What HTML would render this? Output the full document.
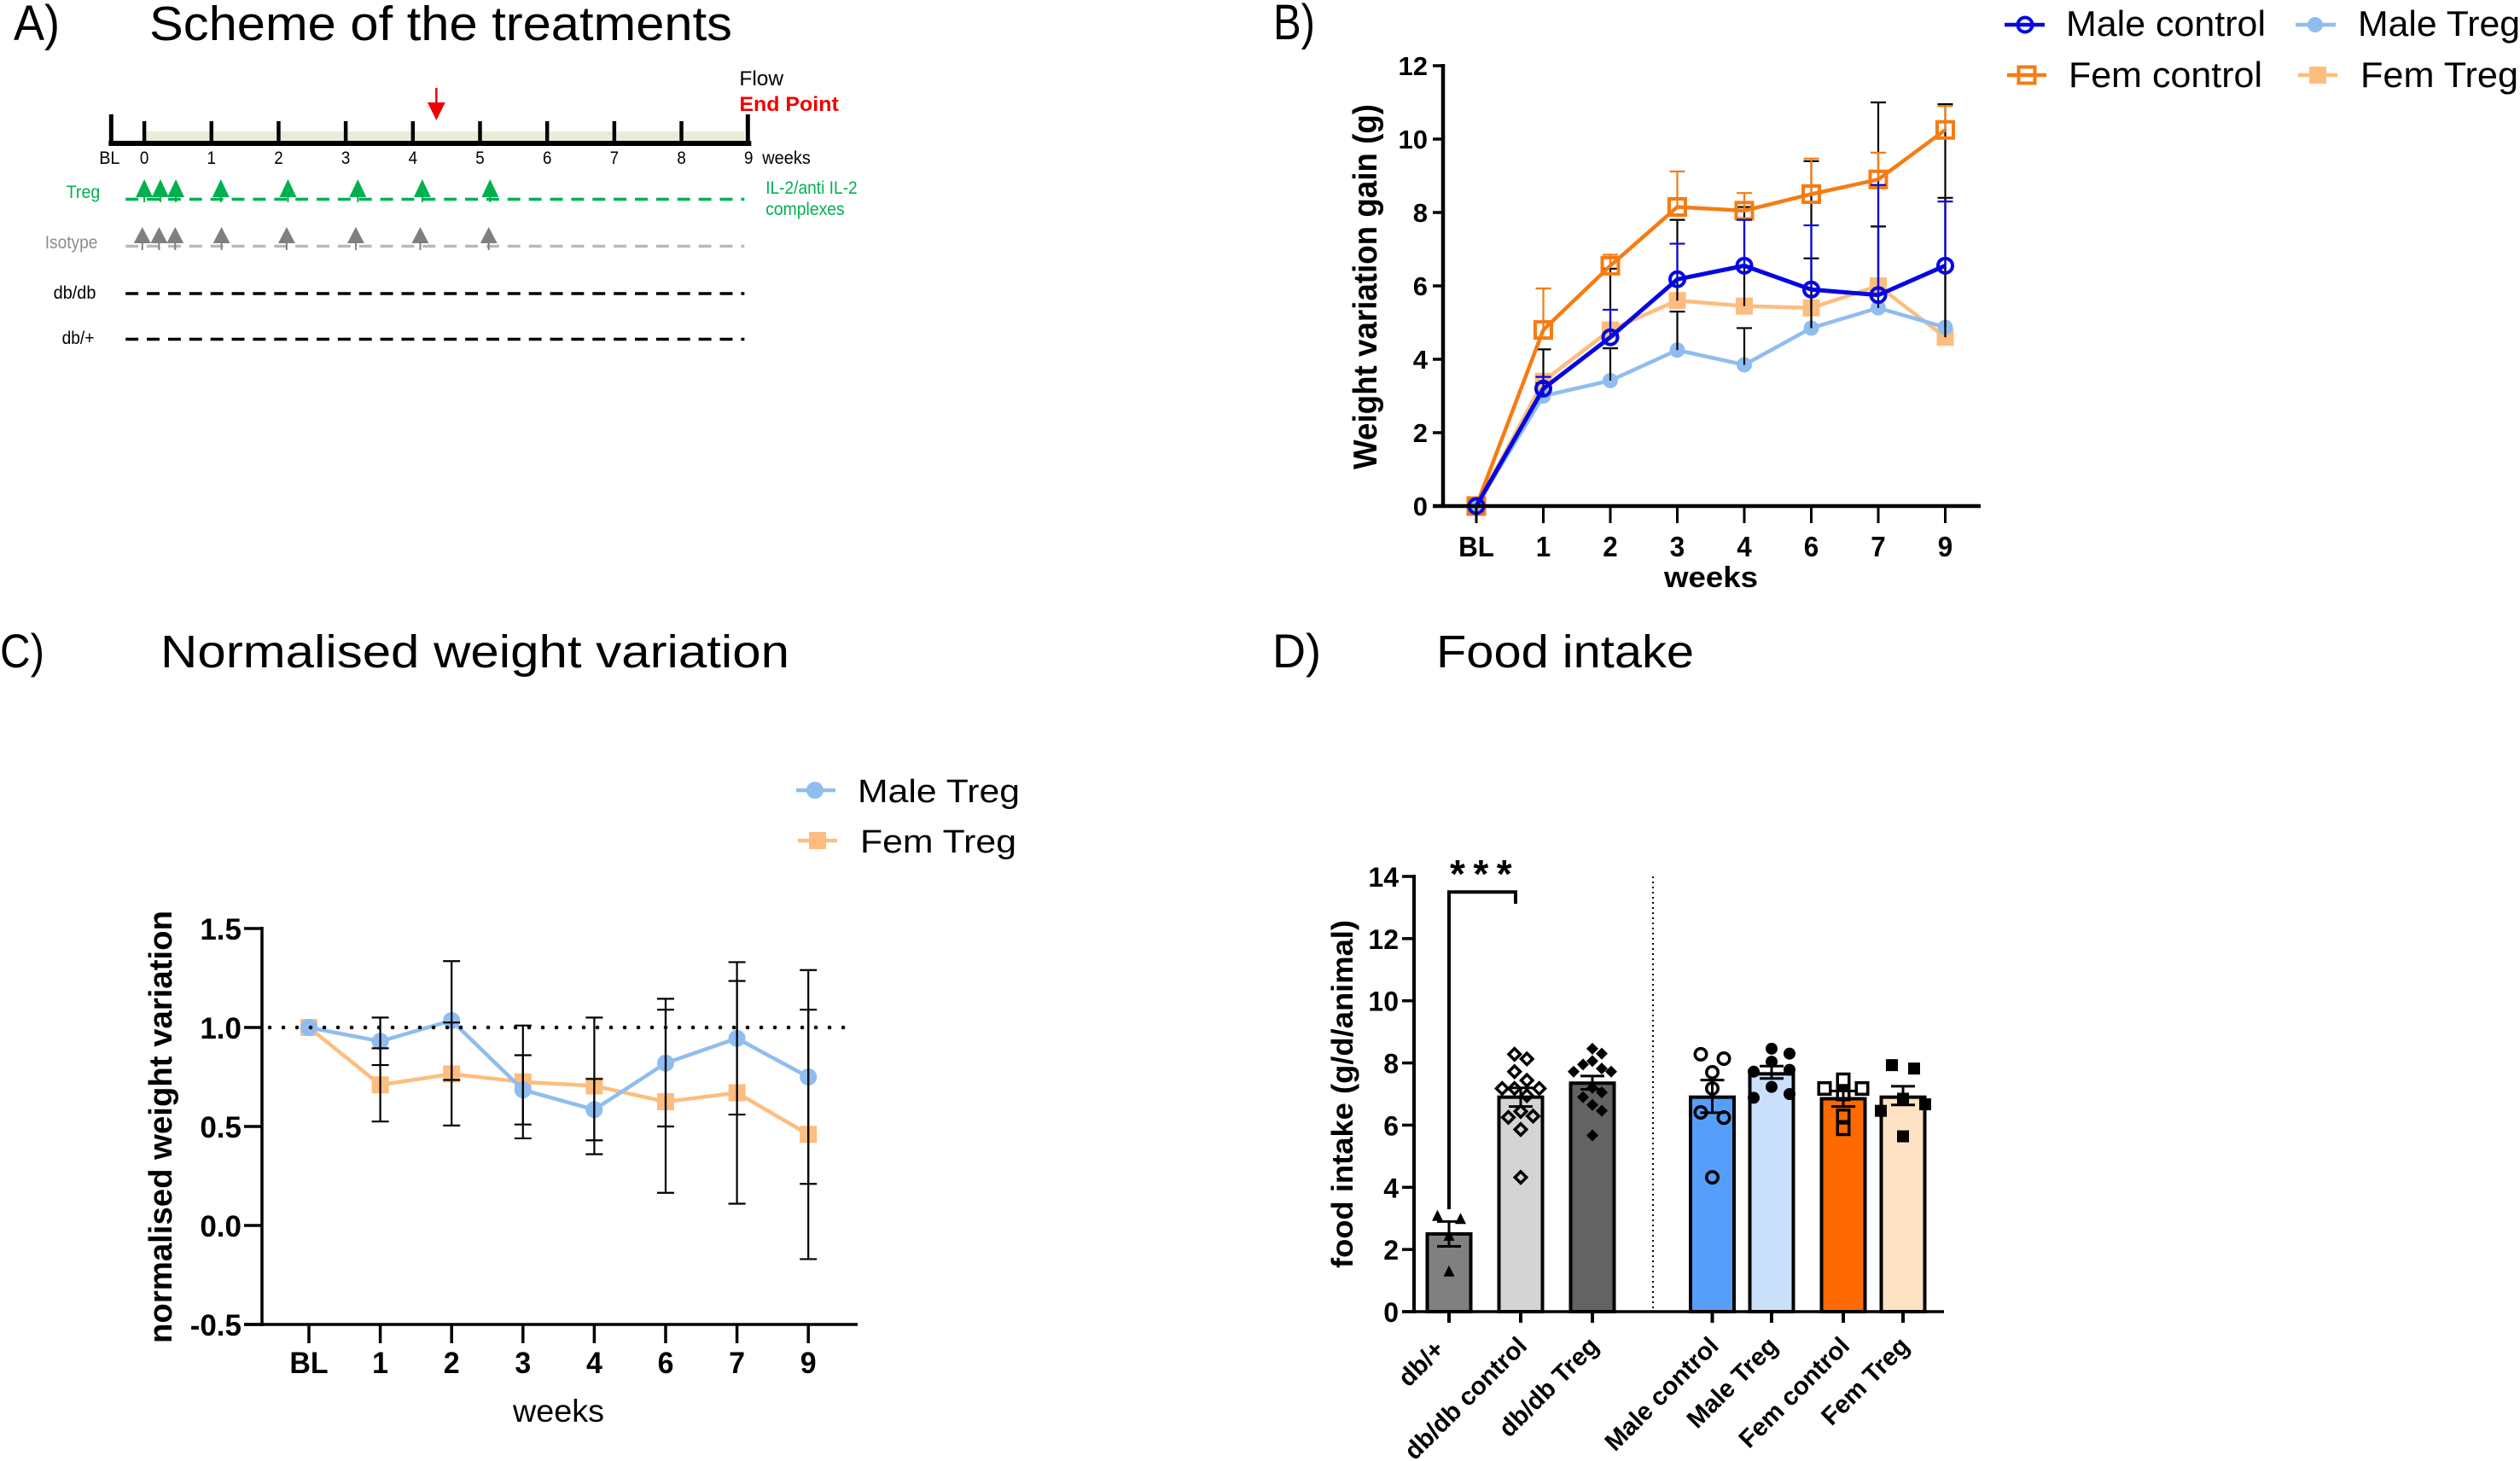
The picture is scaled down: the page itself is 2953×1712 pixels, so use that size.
<!DOCTYPE html>
<html lang="en">
<head>
<meta charset="utf-8">
<title>Treatment scheme, weight variation and food intake</title>
<style>
html,body{margin:0;padding:0;background:#fff;}
svg{display:block;}
text{font-family:"Liberation Sans",Arial,sans-serif;fill:#000;}
</style>
</head>
<body>
<svg id="fig" xmlns="http://www.w3.org/2000/svg" width="2953" height="1712" viewBox="0 0 2953 1712">
  <rect width="2953" height="1712" fill="#fff"/>

  <text x="16" y="47" font-size="58" textLength="54" lengthAdjust="spacingAndGlyphs">A)</text>
  <text x="175" y="47" font-size="57" textLength="683" lengthAdjust="spacingAndGlyphs">Scheme of the treatments</text>
  <text x="1492" y="46" font-size="58" textLength="49" lengthAdjust="spacingAndGlyphs">B)</text>
  <text x="0" y="782" font-size="56" textLength="52" lengthAdjust="spacingAndGlyphs">C)</text>
  <text x="188" y="782" font-size="54" textLength="737" lengthAdjust="spacingAndGlyphs">Normalised weight variation</text>
  <text x="1491" y="782" font-size="56" textLength="57" lengthAdjust="spacingAndGlyphs">D)</text>
  <text x="1683" y="782" font-size="54" textLength="302" lengthAdjust="spacingAndGlyphs">Food intake</text>

  <g id="panelA" transform="scale(0.9947,1)">
    <text x="871" y="100" font-size="24" textLength="52" lengthAdjust="spacingAndGlyphs">Flow</text>
    <text x="871" y="130" font-size="24" font-weight="700" style="fill:#f00000" textLength="117" lengthAdjust="spacingAndGlyphs">End Point</text>
    <text x="898" y="192" font-size="21" textLength="57" lengthAdjust="spacingAndGlyphs">weeks</text>
    <text x="78" y="232" font-size="21" style="fill:#00b050" textLength="40" lengthAdjust="spacingAndGlyphs">Treg</text>
    <text x="53" y="291" font-size="21" style="fill:#8c8c8c" textLength="62" lengthAdjust="spacingAndGlyphs">Isotype</text>
    <text x="63" y="350" font-size="21" textLength="50" lengthAdjust="spacingAndGlyphs">db/db</text>
    <text x="73" y="403" font-size="21" textLength="38" lengthAdjust="spacingAndGlyphs">db/+</text>
    <text x="902" y="227" font-size="21" style="fill:#00b050" textLength="108" lengthAdjust="spacingAndGlyphs">IL-2/anti IL-2</text>
    <text x="902" y="252" font-size="21" style="fill:#00b050" textLength="93" lengthAdjust="spacingAndGlyphs">complexes</text>
  </g>

  <g id="panelB">
    <text transform="translate(1613,550) rotate(-90)" font-size="39" font-weight="700" textLength="428" lengthAdjust="spacingAndGlyphs">Weight variation gain (g)</text>
    <text x="1950" y="688" font-size="34" font-weight="700" textLength="110" lengthAdjust="spacingAndGlyphs">weeks</text>
    <text x="2421" y="42" font-size="42" textLength="234" lengthAdjust="spacingAndGlyphs">Male control</text>
    <text x="2763" y="42" font-size="42" textLength="190" lengthAdjust="spacingAndGlyphs">Male Treg</text>
    <text x="2424" y="102" font-size="42" textLength="227" lengthAdjust="spacingAndGlyphs">Fem control</text>
    <text x="2766" y="102" font-size="42" textLength="185" lengthAdjust="spacingAndGlyphs">Fem Treg</text>
  </g>

  <g id="panelC">
    <text transform="translate(201,1574) rotate(-90)" font-size="38" font-weight="700" textLength="507" lengthAdjust="spacingAndGlyphs">normalised weight variation</text>
    <text x="601" y="1666" font-size="37" textLength="107" lengthAdjust="spacingAndGlyphs">weeks</text>
    <text x="1005" y="940" font-size="38" textLength="190" lengthAdjust="spacingAndGlyphs">Male Treg</text>
    <text x="1008" y="999" font-size="38" textLength="183" lengthAdjust="spacingAndGlyphs">Fem Treg</text>
  </g>

  <g id="panelD">
    <text transform="translate(1585,1486) rotate(-90)" font-size="35" font-weight="700" textLength="408" lengthAdjust="spacingAndGlyphs">food intake (g/d/animal)</text>
    <text x="1699" y="1040" font-size="46" font-weight="700" letter-spacing="9.5">***</text>
  </g>
</svg>

<script>
// ---------- Panel A data ----------
const schemeWeeks = [0, 1, 2, 3, 4, 5, 6, 7, 8, 9];
const tregDoses = [0, 0.24, 0.47, 1.14, 2.14, 3.18, 4.14, 5.15];
const isotypeDoses = [-0.03, 0.22, 0.46, 1.15, 2.12, 3.15, 4.11, 5.13];
const flowWeek = 4.35;

// ---------- Panel B data ----------
const weekLabels = ['BL', '1', '2', '3', '4', '6', '7', '9'];
const bTicks = [0, 2, 4, 6, 8, 10, 12];
const bMaleControl = [0, 3.2, 4.6, 6.18, 6.55, 5.9, 5.75, 6.55];
const bFemControl = [0, 4.8, 6.55, 8.15, 8.05, 8.5, 8.9, 10.25];
const bMaleTreg = [0, 3.0, 3.42, 4.25, 3.85, 4.85, 5.4, 4.87];
const bFemTreg = [0, 3.4, 4.8, 5.6, 5.45, 5.4, 6.0, 4.6];
const bMaleControlUpper = [null, 3.52, 5.35, 7.15, 7.8, 7.65, 8.75, 8.3];
const bFemControlUpper = [null, 5.93, 6.85, 9.12, 8.53, 9.47, 9.63, 10.9];
const bMaleTregUpper = [null, 4.27, 4.3, 5.3, 4.85, 6.75, 7.62, 8.4];
const bFemTregUpper = [null, 3.35, 6.47, 7.8, 8.15, 9.4, 11.0, 10.95];

// ---------- Panel C data ----------
const cTicks = [-0.5, 0, 0.5, 1, 1.5];
const cTickLabels = ['-0.5', '0.0', '0.5', '1.0', '1.5'];
const cReference = 1;
const cMaleTreg = [1, 0.93, 1.035, 0.685, 0.585, 0.82, 0.945, 0.75];
const cFemTreg = [1, 0.71, 0.765, 0.725, 0.705, 0.625, 0.67, 0.46];
const cMaleUpper = [null, 1.05, 1.335, 0.86, 0.74, 1.145, 1.33, 1.29];
const cMaleLower = [null, 0.81, 0.735, 0.51, 0.43, 0.5, 0.56, 0.21];
const cFemUpper = [null, 0.895, 1.025, 1.01, 1.05, 1.09, 1.235, 1.09];
const cFemLower = [null, 0.525, 0.505, 0.44, 0.36, 0.165, 0.11, -0.17];

// ---------- Panel D data ----------
const dCategories = ['db/+', 'db/db control', 'db/db Treg', 'Male control', 'Male Treg', 'Fem control', 'Fem Treg'];
const dTicks = [0, 2, 4, 6, 8, 10, 12, 14];
const dMeans = [2.5, 6.9, 7.35, 6.9, 7.65, 6.85, 6.9];
const dErrLow = [2.1, 6.6, 7.15, 6.4, 7.5, 6.6, 6.65];
const dErrHigh = [2.9, 7.2, 7.58, 7.45, 7.9, 7.1, 7.25];
const ptsDbPlus = [3.1, 3.0, 2.46, 1.31];
const ptsDbControl = [8.28, 8.13, 7.72, 7.44, 7.18, 7.18, 7.18, 6.95, 6.44, 6.29, 6.25, 5.86, 4.32];
const ptsDbTreg = [8.46, 8.3, 8.06, 7.95, 7.82, 7.72, 7.72, 7.2, 7.05, 6.9, 6.65, 6.46, 5.67];
const ptsMaleControl = [8.28, 8.14, 7.7, 7.18, 6.41, 6.24, 4.32];
const ptsMaleTreg = [8.46, 8.3, 8.04, 7.78, 7.72, 7.23, 7.0, 6.88];
const ptsFemControl = [7.46, 7.18, 7.18, 7.0, 6.3, 5.88];
const ptsFemTreg = [7.93, 7.82, 6.85, 6.67, 6.46, 5.64];
const dPoints = [ptsDbPlus, ptsDbControl, ptsDbTreg, ptsMaleControl, ptsMaleTreg, ptsFemControl, ptsFemTreg];

// ---------- Helpers ----------
const NS = 'http://www.w3.org/2000/svg';
function mk(tag, attrs, parent) {
  const el = document.createElementNS(NS, tag);
  for (const k in attrs) el.setAttribute(k, attrs[k]);
  parent.appendChild(el);
  return el;
}
function linear(d0, d1, r0, r1) {
  return v => r0 + (v - d0) * (r1 - r0) / (d1 - d0);
}
function line(parent, x1, y1, x2, y2, stroke, sw, name, extra) {
  const el = mk('line', Object.assign({x1, y1, x2, y2, stroke, 'stroke-width': sw}, extra || {}), parent);
  
  
  return el;
}
function label(parent, x, y, str, size, weight, anchor, sx, name, rotate) {
  let tf = 'translate(' + x + ',' + y + ')';
  if (rotate) tf += ' rotate(' + rotate + ')';
  if (sx !== 1) tf += ' scale(' + sx + ',1)';
  const el = mk('text', {transform: tf, 'font-size': size, 'font-weight': weight, 'text-anchor': anchor}, parent);
  el.textContent = str;
  
  
  return el;
}
function markerPath(kind, x, y, s) {
  const h = s / 2;
  if (kind === 'circle') return 'M' + (x - h) + ' ' + y + 'a' + h + ' ' + h + ' 0 1 0 ' + s + ' 0a' + h + ' ' + h + ' 0 1 0 ' + (-s) + ' 0Z';
  if (kind === 'square') return 'M' + (x - h) + ' ' + (y - h) + 'h' + s + 'v' + s + 'h' + (-s) + 'Z';
  if (kind === 'diamond') return 'M' + x + ' ' + (y - h) + 'L' + (x + h) + ' ' + y + 'L' + x + ' ' + (y + h) + 'L' + (x - h) + ' ' + y + 'Z';
  return 'M' + x + ' ' + (y - h) + 'L' + (x + h) + ' ' + (y + h) + 'L' + (x - h) + ' ' + (y + h) + 'Z';
}
function marker(parent, kind, x, y, s, fill, stroke, sw, name) {
  const el = mk('path', {d: markerPath(kind, x, y, s), fill, stroke, 'stroke-width': sw}, parent);
  
  
  return el;
}
function errorBar(parent, x, yA, yB, hw, color, sw, capA, capB, name) {
  line(parent, x, yA, x, yB, color, sw, name + '-stem');
  if (capA) line(parent, x - hw, yA, x + hw, yA, color, sw, name + '-cap');
  if (capB) line(parent, x - hw, yB, x + hw, yB, color, sw, name + '-cap');
}
function series(parent, values, xf, yf, color, sw, name) {
  const pts = values.map((v, i) => xf(i) + ',' + yf(v)).join(' ');
  const el = mk('polyline', {points: pts, fill: 'none', stroke: color, 'stroke-width': sw, 'stroke-linejoin': 'miter'}, parent);
  
  
  return el;
}

// ---------- Panel A ----------
(function () {
  const g = document.getElementById('panelA');
  const xA = linear(0, 1, 170, 249.1);
  const band = mk('rect', {x: xA(0), y: 154, width: 877 - xA(0), height: 12, fill: '#e8edd8'}, g);
  
  
  line(g, 128, 168, 885, 168, '#000', 6, 'timeline-axis');
  line(g, 131, 134, 131, 170, '#000', 5, 'timeline-start-post');
  line(g, 881, 134, 881, 170, '#000', 5, 'timeline-end-post');
  schemeWeeks.forEach(w => {
    if (w < 9) line(g, xA(w), 142, xA(w), 168, '#000', 4.5, 'timeline-tick');
    label(g, xA(w), 192, String(w), 21, 400, 'middle', 0.9, 'timeline-week-label', 0);
  });
  label(g, 129, 192, 'BL', 21, 400, 'middle', 0.95, 'timeline-baseline-label', 0);

  line(g, 148, 233.5, 877, 233.5, '#00b050', 3.5, 'treg-timeline', {'stroke-dasharray': '15 10'});
  line(g, 148, 288.5, 877, 288.5, '#b9b9b9', 3.5, 'isotype-timeline', {'stroke-dasharray': '15 10'});
  line(g, 148, 344, 877, 344, '#000', 3.5, 'db-db-timeline', {'stroke-dasharray': '15 10'});
  line(g, 148, 397.5, 877, 397.5, '#000', 3.5, 'db-plus-timeline', {'stroke-dasharray': '15 10'});

  tregDoses.forEach(w => {
    line(g, xA(w), 226, xA(w), 237, '#00b050', 2, 'treg-dose-stem');
    const t = mk('path', {d: 'M' + xA(w) + ' 210L' + (xA(w) + 10) + ' 231L' + (xA(w) - 10) + ' 231Z', fill: '#00b050'}, g);
    
    
  });
  isotypeDoses.forEach(w => {
    line(g, xA(w), 280, xA(w), 293, '#7f7f7f', 2, 'isotype-dose-stem');
    const t = mk('path', {d: 'M' + xA(w) + ' 266L' + (xA(w) + 10) + ' 285L' + (xA(w) - 10) + ' 285Z', fill: '#7f7f7f'}, g);
    
    
  });
  const fx = xA(flowWeek);
  line(g, fx, 103, fx, 125, '#f00000', 2.5, 'flow-arrow-shaft');
  const head = mk('path', {d: 'M' + (fx - 10.5) + ' 120L' + (fx + 10.5) + ' 120L' + fx + ' 141Z', fill: '#f00000'}, g);
  
  
})();

// ---------- Panel B ----------
(function () {
  const g = document.getElementById('panelB');
  const BLUE = '#0606e2', ORANGE = '#f57c13', LBLUE = '#8fbdf0', LORANGE = '#fdbd7f';
  const xB = linear(0, 1, 1730, 1808.5);
  const yB = linear(0, 12, 593, 77);

  series(g, bFemTreg, xB, yB, LORANGE, 4.5, 'fem-treg-line');
  bFemTreg.forEach((v, i) => marker(g, 'square', xB(i), yB(v), 20, LORANGE, 'none', 0, 'fem-treg-point'));
  series(g, bMaleTreg, xB, yB, LBLUE, 4.5, 'male-treg-line');
  bMaleTreg.forEach((v, i) => marker(g, 'circle', xB(i), yB(v), 18, LBLUE, 'none', 0, 'male-treg-point'));
  bFemTregUpper.forEach((u, i) => { if (u !== null) errorBar(g, xB(i), yB(u), yB(bFemTreg[i]), 9, '#000', 2.2, true, false, 'fem-treg-error'); });
  bMaleTregUpper.forEach((u, i) => { if (u !== null) errorBar(g, xB(i), yB(u), yB(bMaleTreg[i]), 9, '#000', 2.2, true, false, 'male-treg-error'); });
  bFemControlUpper.forEach((u, i) => { if (u !== null) errorBar(g, xB(i), yB(u), yB(bFemControl[i]), 9, ORANGE, 2.2, true, false, 'fem-control-error'); });
  series(g, bFemControl, xB, yB, ORANGE, 4.5, 'fem-control-line');
  bFemControl.forEach((v, i) => marker(g, 'square', xB(i), yB(v), 19, 'none', ORANGE, 4, 'fem-control-point'));
  bMaleControlUpper.forEach((u, i) => { if (u !== null) errorBar(g, xB(i), yB(u), yB(bMaleControl[i]), 9, BLUE, 2.2, true, false, 'male-control-error'); });
  series(g, bMaleControl, xB, yB, BLUE, 5, 'male-control-line');
  bMaleControl.forEach((v, i) => marker(g, 'circle', xB(i), yB(v), 17, 'none', BLUE, 4, 'male-control-point'));

  line(g, 1691, 75, 1691, 595, '#000', 4.5, 'y-axis');
  line(g, 1679, 593, 2321, 593, '#000', 4.5, 'x-axis');
  bTicks.forEach(t => {
    line(g, 1679, yB(t), 1691, yB(t), '#000', 3.5, 'y-tick');
    label(g, 1673, yB(t) + 11, String(t), 31, 700, 'end', 1, 'y-tick-label', 0);
  });
  weekLabels.forEach((w, i) => {
    line(g, xB(i), 593, xB(i), 613, '#000', 3, 'x-tick');
    label(g, xB(i), 652, w, 33, 700, 'middle', 0.95, 'x-tick-label', 0);
  });

  line(g, 2349, 29, 2396, 29, BLUE, 4.5, 'legend-male-control-line');
  marker(g, 'circle', 2373, 29, 17, 'none', BLUE, 4, 'legend-male-control-marker');
  line(g, 2690, 29, 2737, 29, LBLUE, 4.5, 'legend-male-treg-line');
  marker(g, 'circle', 2713, 29, 18, LBLUE, 'none', 0, 'legend-male-treg-marker');
  line(g, 2352, 88, 2398, 88, ORANGE, 4.5, 'legend-fem-control-line');
  marker(g, 'square', 2375, 88, 19, 'none', ORANGE, 4, 'legend-fem-control-marker');
  line(g, 2693, 88, 2739, 88, LORANGE, 4.5, 'legend-fem-treg-line');
  marker(g, 'square', 2716, 88, 20, LORANGE, 'none', 0, 'legend-fem-treg-marker');
})();

// ---------- Panel C ----------
(function () {
  const g = document.getElementById('panelC');
  const LBLUE = '#8fbdf0', LORANGE = '#fdbd7f';
  const xC = linear(0, 1, 362, 445.6);
  const yC = linear(-0.5, 1.5, 1552, 1088);

  series(g, cFemTreg, xC, yC, LORANGE, 4.5, 'fem-treg-line');
  cFemTreg.forEach((v, i) => marker(g, 'square', xC(i), yC(v), 20, LORANGE, 'none', 0, 'fem-treg-point'));
  series(g, cMaleTreg, xC, yC, LBLUE, 4.5, 'male-treg-line');
  cMaleTreg.forEach((v, i) => marker(g, 'circle', xC(i), yC(v), 20, LBLUE, 'none', 0, 'male-treg-point'));
  cFemUpper.forEach((u, i) => { if (u !== null) errorBar(g, xC(i), yC(u), yC(cFemLower[i]), 10, '#000', 2.2, true, true, 'fem-treg-error'); });
  cMaleUpper.forEach((u, i) => { if (u !== null) errorBar(g, xC(i), yC(u), yC(cMaleLower[i]), 10, '#000', 2.2, true, true, 'male-treg-error'); });

  line(g, 316, yC(cReference), 993, yC(cReference), '#000', 4.5, 'reference-line', {'stroke-dasharray': '0.1 15.9', 'stroke-linecap': 'round'});

  line(g, 307, 1086, 307, 1554, '#000', 3.5, 'y-axis');
  line(g, 286, 1552, 1005, 1552, '#000', 3.5, 'x-axis');
  cTicks.forEach((t, i) => {
    line(g, 286, yC(t), 307, yC(t), '#000', 3.5, 'y-tick');
    label(g, 283, yC(t) + 13, cTickLabels[i], 35, 700, 'end', 1, 'y-tick-label', 0);
  });
  weekLabels.forEach((w, i) => {
    line(g, xC(i), 1552, xC(i), 1574, '#000', 3.5, 'x-tick');
    label(g, xC(i), 1609, w, 35, 700, 'middle', 0.97, 'x-tick-label', 0);
  });

  line(g, 933, 926, 979, 926, LBLUE, 4.5, 'legend-male-treg-line');
  marker(g, 'circle', 955, 926, 20, LBLUE, 'none', 0, 'legend-male-treg-marker');
  line(g, 935, 985, 981, 985, LORANGE, 4.5, 'legend-fem-treg-line');
  marker(g, 'square', 958, 985, 20, LORANGE, 'none', 0, 'legend-fem-treg-marker');
})();

// ---------- Panel D ----------
(function () {
  const g = document.getElementById('panelD');
  const dBarFills = ['#808080', '#d4d4d4', '#636363', '#559ffb', '#c9dffa', '#ff6a00', '#ffe2c4'];
  const dMarkerStyles = [
    {kind: 'triangle', size: 13, hollow: false, step: 27},
    {kind: 'diamond', size: 13.5, hollow: true, step: 14.5},
    {kind: 'diamond', size: 14, hollow: false, step: 11},
    {kind: 'circle', size: 13.5, hollow: true, step: 27},
    {kind: 'circle', size: 14, hollow: false, step: 21},
    {kind: 'square', size: 13.5, hollow: true, step: 22},
    {kind: 'square', size: 14, hollow: false, step: 26}
  ];
  const dGaps = [0, 84, 84, 140.5, 69.5, 84, 70];
  const xD = i => { let x = 1698; for (let k = 0; k <= i; k++) x += dGaps[k]; return x; };
  const yD = linear(0, 14, 1537, 1027);

  // beeswarm layout derived from the values: greedy lanes, then each run of
  // neighbouring values is centred on the bar
  function swarm(values, gap) {
    const order = values.map((v, i) => i).sort((a, b) => values[b] - values[a]);
    const placed = [];
    const lanes = new Array(values.length);
    order.forEach(i => {
      for (let k = 0; ; k++) {
        const lane = k === 0 ? 0 : (k % 2 ? (k + 1) / 2 : -k / 2);
        if (!placed.some(p => p.lane === lane && Math.abs(p.v - values[i]) < gap)) {
          placed.push({lane, v: values[i]});
          lanes[i] = lane;
          break;
        }
      }
    });
    let run = [];
    const flush = () => {
      const ls = run.map(i => lanes[i]);
      const shift = (Math.min(...ls) + Math.max(...ls)) / 2;
      run.forEach(i => { lanes[i] -= shift; });
      run = [];
    };
    order.forEach((i, n) => {
      if (n > 0 && values[order[n - 1]] - values[i] >= gap) flush();
      run.push(i);
    });
    flush();
    return lanes;
  }

  dMeans.forEach((m, i) => {
    const b = mk('rect', {x: xD(i) - 25.5, y: yD(m), width: 51, height: yD(0) - yD(m), fill: dBarFills[i], stroke: '#000', 'stroke-width': 4}, g);
    
    
  });
  dMeans.forEach((m, i) => errorBar(g, xD(i), yD(dErrHigh[i]), yD(dErrLow[i]), 14, '#000', 3, true, true, 'bar-error'));
  dPoints.forEach((vals, i) => {
    const st = dMarkerStyles[i];
    const lanes = swarm(vals, 0.4);
    vals.forEach((v, j) => {
      marker(g, st.kind, xD(i) + lanes[j] * st.step, yD(v), st.size,
        st.hollow ? 'none' : '#000', st.hollow ? '#000' : 'none', st.hollow ? 3.5 : 0, 'data-point');
    });
  });

  const bracket = mk('path', {d: 'M' + xD(0) + ' 1417V' + yD(13.5) + 'H1776V1059', fill: 'none', stroke: '#000', 'stroke-width': 4}, g);
  
  
  line(g, 1937, 1027, 1937, 1537, '#000', 2, 'group-separator', {'stroke-dasharray': '2 4'});

  line(g, 1657, 1025, 1657, 1539, '#000', 4, 'y-axis');
  line(g, 1643, 1537, 2278, 1537, '#000', 3.5, 'x-axis');
  dTicks.forEach(t => {
    line(g, 1643, yD(t), 1657, yD(t), '#000', 3.5, 'y-tick');
    label(g, 1639, yD(t) + 12, String(t), 32, 700, 'end', 1, 'y-tick-label', 0);
  });
  dCategories.forEach((c, i) => {
    line(g, xD(i), 1537, xD(i), 1550, '#000', 4, 'x-tick');
    const nudge = c.length < 5 ? -13 : 0;
    label(g, xD(i) + 9 + nudge, 1579 + (nudge ? 4 : 0), c, 29.5, 700, 'end', 1, 'x-tick-label', -45);
  });
})();
</script>
</body>
</html>
